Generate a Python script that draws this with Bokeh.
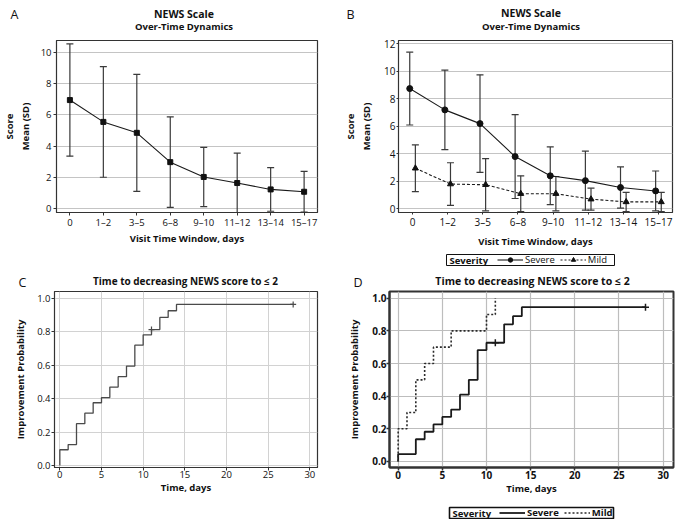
from bokeh.plotting import figure
from bokeh.models import (Whisker, TeeHead, ColumnDataSource, FixedTicker,
                          Legend, LegendItem, Label, Range1d, Spacer)
from bokeh.layouts import column, row
from bokeh.embed import file_html
from bokeh.resources import INLINE

# ---------------- data ----------------
windows = ["0", "1–2", "3–5", "6–8", "9–10", "11–12", "13–14", "15–17"]
all_mean = [6.95, 5.55, 4.85, 2.97, 2.02, 1.63, 1.22, 1.07]
all_sd = [3.6, 3.55, 3.75, 2.9, 1.9, 1.92, 1.4, 1.31]
severe_mean = [8.75, 7.2, 6.2, 3.8, 2.4, 2.05, 1.55, 1.3]
severe_sd = [2.65, 2.9, 3.55, 3.05, 2.1, 2.15, 1.5, 1.45]
mild_mean = [2.95, 1.8, 1.75, 1.1, 1.1, 0.7, 0.5, 0.5]
mild_sd = [1.7, 1.55, 1.9, 1.3, 1.25, 0.8, 0.7, 0.7]

km_all_t = [0, 0, 1, 2, 3, 4, 5, 6, 7, 8, 9, 10, 11, 12, 13, 14, 28]
km_all_p = [0, 0.094, 0.125, 0.25, 0.3125, 0.375, 0.406, 0.469, 0.531, 0.594,
            0.719, 0.781, 0.8125, 0.885, 0.925, 0.963, 0.963]
km_all_cens_t = [11, 28]
km_all_cens_p = [0.8125, 0.963]

km_sev_t = [0, 0, 2, 3, 4, 5, 6, 7, 8, 9, 10, 12, 13, 14, 28]
km_sev_p = [0, 0.045, 0.136, 0.182, 0.227, 0.273, 0.318, 0.409, 0.5, 0.682,
            0.727, 0.84, 0.89, 0.945, 0.945]
km_sev_cens_t = [11, 28]
km_sev_cens_p = [0.727, 0.945]
km_mild_t = [0, 0, 1, 2, 3, 4, 6, 10, 11]
km_mild_p = [0, 0.2, 0.3, 0.5, 0.6, 0.7, 0.8, 0.9, 1.0]

prob_ticks = [0, 0.2, 0.4, 0.6, 0.8, 1.0]
prob_labels = ["0.0", "0.2", "0.4", "0.6", "0.8", "1.0"]
day_ticks = [0, 5, 10, 15, 20, 25, 30]

title_news = "NEWS Scale"
title_dyn = "Over-Time Dynamics"
title_km = "Time to decreasing NEWS score to ≤ 2"

FONT = "Open Sans"
TXT = "#111111"
NAN = float("nan")


def make_fig(w, h, xr, yr, left, right, top, bottom, outline_w=1.2):
    p = figure(width=w, height=h, x_range=Range1d(*xr), y_range=Range1d(*yr),
               output_backend="svg", toolbar_location=None,
               min_border_left=left, min_border_right=right,
               min_border_top=top, min_border_bottom=bottom)
    p.outline_line_color = "#333333"
    p.outline_line_width = outline_w
    p.background_fill_color = "white"
    p.border_fill_color = "white"
    for ax in (p.xaxis[0], p.yaxis[0]):
        ax.major_tick_out = 3
        ax.major_tick_in = 0
        ax.minor_tick_out = 0
        ax.minor_tick_in = 0
        ax.axis_line_color = "#333333"
        ax.major_tick_line_color = "#333333"
        ax.major_label_text_font = FONT
        ax.major_label_text_font_size = "9.5px"
        ax.major_label_text_color = TXT
        ax.major_label_standoff = 0
        ax.axis_label_text_font = FONT
        ax.axis_label_text_font_style = "bold"
        ax.axis_label_text_font_size = "9.5px"
        ax.axis_label_text_color = TXT
        ax.axis_label_standoff = 0
    return p


def header(w, h, texts):
    """Strip above a panel holding its letter and its title lines."""
    s = figure(width=w, height=h, x_range=Range1d(0, w), y_range=Range1d(0, h),
               x_axis_location=None, y_axis_location=None,
               output_backend="svg", toolbar_location=None,
               min_border_left=0, min_border_right=0, min_border_top=0, min_border_bottom=0)
    s.grid.visible = False
    s.outline_line_color = None
    for text, x, y, size, style, align in texts:
        s.add_layout(Label(x=x, y=h - y, text=text, text_font=FONT, text_font_size=size,
                           text_font_style=style, text_color=TXT, text_align=align,
                           text_baseline="middle"))
    return s


def whiskers(p, xs, means, sds, color="#3a3a3a"):
    src = ColumnDataSource(dict(x=xs, upper=[m + s for m, s in zip(means, sds)],
                                lower=[m - s for m, s in zip(means, sds)]))
    w = Whisker(base="x", upper="upper", lower="lower", source=src,
                line_color=color, line_width=1.2,
                upper_head=TeeHead(size=7, line_color=color, line_width=1.2),
                lower_head=TeeHead(size=7, line_color=color, line_width=1.2))
    p.add_layout(w)


def legend_strip(total_w, left, box_w, h, specs, legend_x, bold=False, border_w=1.0):
    """A small figure whose frame is the legend box: 'Severity' + horizontal legend."""
    fh = h - 2
    s = figure(width=total_w, height=h, x_range=Range1d(0, box_w), y_range=Range1d(0, fh),
               x_axis_location=None, y_axis_location=None,
               output_backend="svg", toolbar_location=None,
               min_border_left=left, min_border_right=total_w - left - box_w,
               min_border_top=1, min_border_bottom=1)
    s.grid.visible = False
    s.outline_line_color = "#111111"
    s.outline_line_width = border_w
    s.add_layout(Label(x=3, y=fh / 2, text="Severity", text_font=FONT,
                       text_font_style="bold", text_font_size="9.5px", text_color=TXT,
                       text_baseline="middle", text_align="left"))
    items = []
    for name, line_kw, marker in specs:
        rs = [s.line([NAN, NAN], [NAN, NAN], **line_kw)]
        if marker is not None:
            rs.append(s.scatter([NAN], [NAN], marker=marker, size=5, color="#111111"))
        items.append(LegendItem(label=name, renderers=rs))
    leg = Legend(items=items, orientation="horizontal", location=(legend_x, fh / 2 - 6.2),
                 label_text_font=FONT, label_text_font_size="9.5px", label_text_color=TXT,
                 label_text_font_style="bold" if bold else "normal",
                 glyph_width=26, glyph_height=fh, label_height=fh, label_standoff=2,
                 spacing=5, padding=0, margin=0, border_line_color=None,
                 background_fill_alpha=0)
    s.add_layout(leg)
    return s


idx = list(range(len(windows)))
label_map = {i: w for i, w in enumerate(windows)}

# ---------------- headers ----------------
hdrA = header(341, 36, [("A", 10, 14, "12.5px", "normal", "left"),
                        (title_news, 183.5, 13.5, "10.5px", "bold", "center"),
                        (title_dyn, 183.5, 25.5, "9.5px", "bold", "center")])
hdrB = header(339, 36, [("B", 5, 14, "12.5px", "normal", "left"),
                        (title_news, 189.5, 12.5, "10.5px", "bold", "center"),
                        (title_dyn, 189.5, 25.5, "9.5px", "bold", "center")])
hdrC = header(341, 24, [("C", 18, 15.5, "12.5px", "normal", "left"),
                        (title_km, 185, 14, "10px", "bold", "center")])
hdrD = header(339, 24, [("D", 12, 15.5, "12.5px", "normal", "left"),
                        (title_km, 191, 14, "10.5px", "bold", "center")])

# ---------------- Panel A ----------------
pA = make_fig(341, 217, (-0.4, 7.4), (-0.26, 10.77), 50, 24, 4, 41)
pA.xaxis.ticker = FixedTicker(ticks=idx)
pA.xaxis.major_label_overrides = label_map
pA.yaxis.ticker = FixedTicker(ticks=[0, 2, 4, 6, 8, 10])
pA.yaxis.major_label_standoff = 2
pA.yaxis.axis_label_standoff = 6
pA.xgrid.visible = False
pA.ygrid.grid_line_color = "#c4c4c4"
pA.xaxis.axis_label = "Visit Time Window, days"
pA.yaxis.axis_label = "Score\nMean (SD)"
whiskers(pA, idx, all_mean, all_sd)
pA.line(idx, all_mean, line_color="#1a1a1a", line_width=1.1)
pA.scatter(idx, all_mean, marker="square", size=5, color="#111111")

# ---------------- Panel B ----------------
pB = make_fig(339, 217, (-0.4, 7.4), (-0.27, 12.25), 48, 8, 4, 41)
pB.xaxis.ticker = FixedTicker(ticks=idx)
pB.xaxis.major_label_overrides = label_map
pB.xaxis.major_label_text_font_size = "10px"
pB.yaxis.major_label_text_font_size = "10px"
pB.xaxis.major_tick_out = 2
pB.xaxis.axis_label_standoff = 3
pB.yaxis.major_tick_out = 2
pB.yaxis.major_label_standoff = 1
pB.yaxis.axis_label_standoff = 8
pB.yaxis.ticker = FixedTicker(ticks=[0, 2, 4, 6, 8, 10, 12])
pB.xgrid.visible = False
pB.ygrid.grid_line_color = "#c4c4c4"
pB.xaxis.axis_label = "Visit Time Window, days"
pB.yaxis.axis_label = "Score\nMean (SD)"
xs_sev = [i - 0.08 for i in idx]
xs_mild = [i + 0.08 for i in idx]
whiskers(pB, xs_sev, severe_mean, severe_sd)
whiskers(pB, xs_mild, mild_mean, mild_sd)
pB.line(xs_sev, severe_mean, line_color="#1a1a1a", line_width=1.1)
pB.scatter(xs_sev, severe_mean, marker="circle", size=6, color="#111111")
pB.line(xs_mild, mild_mean, line_color="#1a1a1a", line_width=1.1, line_dash="3 2")
pB.scatter(xs_mild, mild_mean, marker="triangle", size=6, color="#111111")

legB = legend_strip(339, 105, 168, 13,
                    [("Severe", dict(line_color="#1a1a1a", line_width=1.1), "circle"),
                     ("Mild", dict(line_color="#1a1a1a", line_width=1.1, line_dash="2 2"), "triangle")],
                    legend_x=51)

# ---------------- Panel C ----------------
pC = make_fig(341, 216, (-0.64, 30.92), (-0.012, 1.040), 54, 24, 1, 39)
pC.xaxis.ticker = FixedTicker(ticks=day_ticks)
pC.yaxis.ticker = FixedTicker(ticks=prob_ticks)
pC.yaxis.major_label_overrides = dict(zip(prob_ticks, prob_labels))
pC.yaxis.major_label_standoff = 1
pC.yaxis.axis_label_standoff = 7
pC.xgrid.grid_line_color = "#d2d2d2"
pC.ygrid.grid_line_color = "#d2d2d2"
pC.xaxis.axis_label = "Time, days"
pC.yaxis.axis_label = "Improvement Probability"
pC.step(km_all_t, km_all_p, mode="after", line_color="#4a4a4a", line_width=1.3)
pC.scatter(km_all_cens_t, km_all_cens_p, marker="cross", size=6, line_color="#4a4a4a", line_width=1.2)

# ---------------- Panel D ----------------
pD = make_fig(339, 216, (-0.98, 31.17), (-0.037, 1.041), 48, 7, 1, 39, outline_w=2.0)
pD.xaxis.ticker = FixedTicker(ticks=day_ticks)
pD.yaxis.ticker = FixedTicker(ticks=prob_ticks)
pD.yaxis.major_label_overrides = dict(zip(prob_ticks, prob_labels))
for ax in (pD.xaxis[0], pD.yaxis[0]):
    ax.major_label_text_font_style = "bold"
    ax.major_label_text_font_size = "10px"
    ax.major_tick_line_width = 1.5
    ax.axis_line_width = 2
pD.yaxis.axis_label_standoff = 8
pD.xgrid.grid_line_color = "#bdbdbd"
pD.ygrid.grid_line_color = "#bdbdbd"
pD.xgrid.grid_line_width = 1.2
pD.ygrid.grid_line_width = 1.2
pD.xaxis.axis_label = "Time, days"
pD.yaxis.axis_label = "Improvement Probability"
pD.step(km_sev_t, km_sev_p, mode="after", line_color="#1a1a1a", line_width=1.8)
pD.scatter(km_sev_cens_t, km_sev_cens_p, marker="cross", size=7, line_color="#1a1a1a", line_width=1.5)
pD.step(km_mild_t, km_mild_p, mode="after", line_color="#2a2a2a", line_width=1.6, line_dash="2 2")

legD = legend_strip(339, 108, 164, 13,
                    [("Severe", dict(line_color="#1a1a1a", line_width=1.8), None),
                     ("Mild", dict(line_color="#2a2a2a", line_width=1.5, line_dash="2 2"), None)],
                    legend_x=50, bold=True, border_w=1.6)

layout = column(row(hdrA, hdrB),
                row(pA, pB),
                row(Spacer(width=341, height=13), legB),
                row(hdrC, hdrD),
                row(pC, pD),
                row(Spacer(width=341, height=13), legD))
open("out.html", "w").write(file_html(layout, INLINE))
